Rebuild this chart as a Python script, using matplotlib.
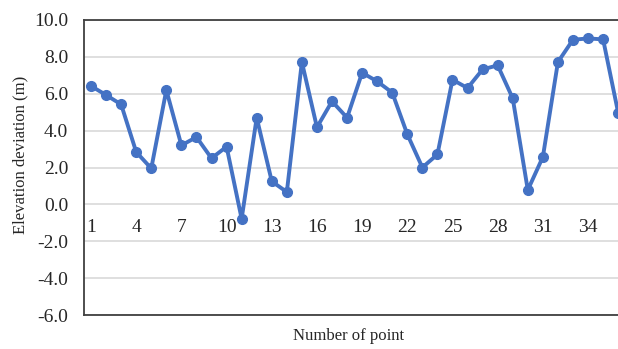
import matplotlib
matplotlib.use("Agg")
import matplotlib.pyplot as plt

points = list(range(1, 37))
deviation = [6.42, 5.93, 5.42, 2.84, 1.95, 6.2, 3.2, 3.65, 2.5, 3.13,
             -0.78, 4.7, 1.25, 0.67, 7.72, 4.18, 5.59, 4.7, 7.14, 6.67,
             6.06, 3.8, 2.0, 2.71, 6.76, 6.31, 7.32, 7.54, 5.75, 0.78,
             2.57, 7.72, 8.93, 9.0, 8.95, 4.97]
x_tick_labels = [str(v) for v in range(1, 37, 3)]
y_ticks = [10.0, 8.0, 6.0, 4.0, 2.0, 0.0, -2.0, -4.0, -6.0]

plt.rcParams['font.family'] = ['Liberation Serif', 'DejaVu Serif']

W, H = 618, 349
fig = plt.figure(figsize=(W / 100, H / 100), dpi=100)
left, right, top, bottom = 83.5, 625.7, 20, 315
ax = fig.add_axes([left / W, 1 - bottom / H, (right - left) / W, (bottom - top) / H])

ax.plot(points, deviation, color='#4472C4', linewidth=2.8, marker='o',
        markersize=7, clip_on=False, zorder=3)

ax.set_xlim(0.5, 36.5)
ax.set_ylim(-6, 10)
ax.set_yticks(y_ticks)
ax.set_yticklabels([f"{v:.1f}" for v in y_ticks], fontsize=14)
ax.tick_params(axis='y', length=0, pad=11)
ax.set_xticks([])
ax.yaxis.grid(True, color='#D9D9D9', linewidth=1.2)
ax.set_axisbelow(True)
for s in ax.spines.values():
    s.set_color('#404040')
    s.set_linewidth(1.3)

for lab in x_tick_labels:
    ax.annotate(lab, xy=(int(lab), 0), xytext=(0, -15), textcoords='offset pixels',
                ha='center', va='top', fontsize=14, color='#262626')

fig.text(349 / W, 1 - 336 / H, 'Number of point', ha='center', va='center',
         fontsize=12, color='#262626')
fig.text(20 / W, 1 - 155 / H, 'Elevation deviation (m)', ha='center', va='center',
         rotation=90, fontsize=12, color='#262626')
for t in ax.get_yticklabels():
    t.set_color('#262626')

fig.savefig('out.png', dpi=100)
